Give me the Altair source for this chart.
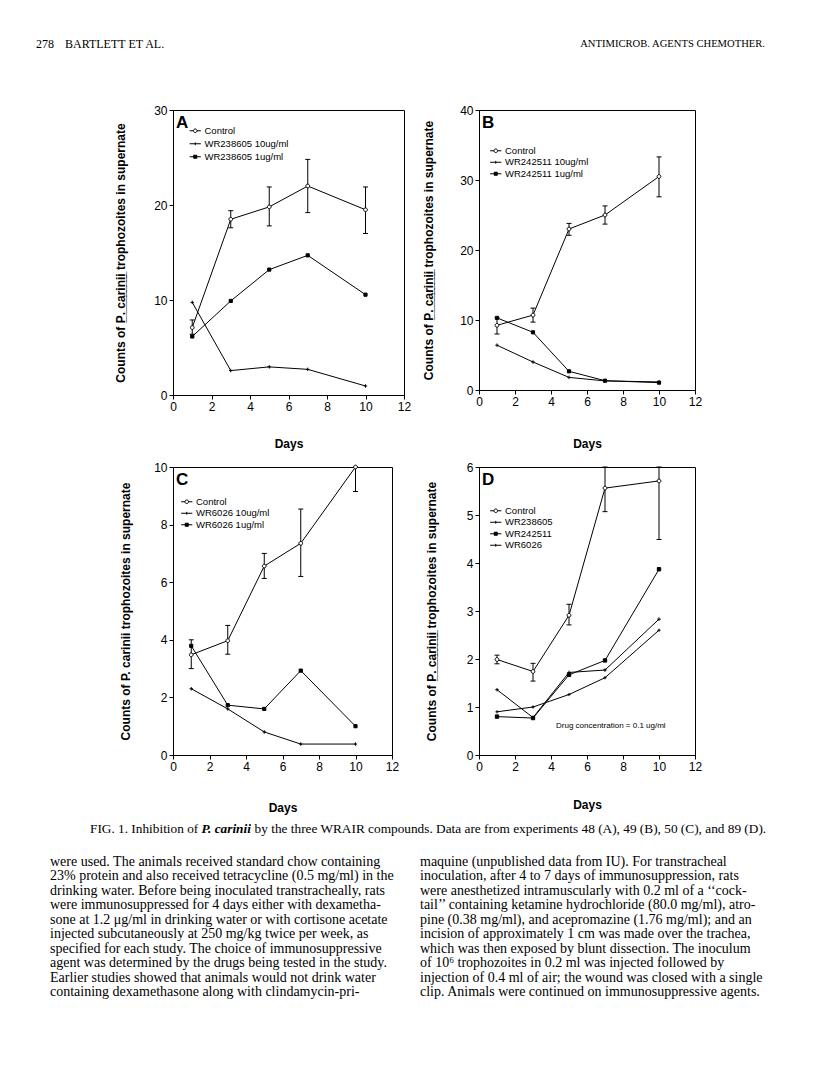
import altair as alt
import pandas as pd

SANS = "Liberation Sans"
SERIF = "Liberation Serif"

DAYS = [1, 3, 5, 7, 10]
UL = "\u0332"
Y_TITLE_UNDERLINED = ("Counts of " + "".join(c + UL for c in "P.") + " "
                      + "".join(c + UL for c in "carinii") + " trophozoites in supernate")
Y_TITLE_PLAIN = "Counts of P. carinii trophozoites in supernate"
X_TITLE = "Days"

# ---- Panel A ----
A_SERIES = ["Control", "WR238605 10ug/ml", "WR238605 1ug/ml"]
A_CONTROL = [7.1, 18.5, 19.8, 22.0, 19.5]
A_CONTROL_LO = [6.4, 17.6, 17.8, 19.2, 17.0]
A_CONTROL_HI = [7.9, 19.4, 21.9, 24.8, 21.9]
A_HIGH = [9.75, 2.57, 2.96, 2.7, 0.95]
A_LOW = [6.16, 9.9, 13.2, 14.7, 10.56]

# ---- Panel B ----
B_SERIES = ["Control", "WR242511 10ug/ml", "WR242511 1ug/ml"]
B_CONTROL = [9.24, 10.7, 23.0, 25.0, 30.5]
B_CONTROL_LO = [8.0, 9.7, 22.1, 23.7, 27.6]
B_CONTROL_HI = [10.3, 11.7, 23.8, 26.3, 33.3]
B_HIGH = [6.4, 4.0, 1.8, 1.3, 1.15]
B_LOW = [10.3, 8.24, 2.67, 1.33, 1.05]

# ---- Panel C ----
C_SERIES = ["Control", "WR6026 10ug/ml", "WR6026 1ug/ml"]
C_CONTROL = [3.48, 3.97, 6.56, 7.35, 10.0]
C_CONTROL_LO = [3.0, 3.5, 6.13, 6.2, 9.15]
C_CONTROL_HI = [4.0, 4.5, 7.0, 8.54, 10.0]
C_HIGH = [2.3, 1.6, 0.8, 0.38, 0.38]
C_LOW = [3.79, 1.73, 1.6, 2.93, 1.0]

# ---- Panel D ----
D_SERIES = ["Control", "WR238605", "WR242511", "WR6026"]
D_CONTROL = [1.99, 1.74, 2.91, 5.56, 5.71]
D_CONTROL_LO = [1.9, 1.54, 2.71, 5.07, 4.49]
D_CONTROL_HI = [2.08, 1.91, 3.14, 6.0, 6.0]
D_WR238605 = [1.36, 0.78, 1.72, 1.77, 2.83]
D_WR242511 = [0.8, 0.77, 1.67, 1.97, 3.87]
D_WR6026 = [0.9, 1.0, 1.26, 1.61, 2.6]
D_NOTE = "Drug concentration = 0.1 ug/ml"

# ---- page text ----
HEADER_PAGE = "278"
HEADER_AUTHORS = "BARTLETT ET AL."
HEADER_JOURNAL = "ANTIMICROB. AGENTS CHEMOTHER."
CAPTION_1 = "FIG. 1. Inhibition of"
CAPTION_2 = "P. carinii"
CAPTION_3 = "by the three WRAIR compounds. Data are from experiments 48 (A), 49 (B), 50 (C), and 89 (D)."
BODY_LEFT = [
    "were used. The animals received standard chow containing",
    "23% protein and also received tetracycline (0.5 mg/ml) in the",
    "drinking water. Before being inoculated transtracheally, rats",
    "were immunosuppressed for 4 days either with dexametha-",
    "sone at 1.2 \u03bcg/ml in drinking water or with cortisone acetate",
    "injected subcutaneously at 250 mg/kg twice per week, as",
    "specified for each study. The choice of immunosuppressive",
    "agent was determined by the drugs being tested in the study.",
    "Earlier studies showed that animals would not drink water",
    "containing dexamethasone along with clindamycin-pri-",
]
BODY_RIGHT = [
    "maquine (unpublished data from IU). For transtracheal",
    "inoculation, after 4 to 7 days of immunosuppression, rats",
    "were anesthetized intramuscularly with 0.2 ml of a \u2018\u2018cock-",
    "tail\u2019\u2019 containing ketamine hydrochloride (80.0 mg/ml), atro-",
    "pine (0.38 mg/ml), and acepromazine (1.76 mg/ml); and an",
    "incision of approximately 1 cm was made over the trachea,",
    "which was then exposed by blunt dissection. The inoculum",
    "of 10\u2076 trophozoites in 0.2 ml was injected followed by",
    "injection of 0.4 ml of air; the wound was closed with a single",
    "clip. Animals were continued on immunosuppressive agents.",
]

# marker paths
P_CIRCLE = "M-1,0A1,1 0 1,1 1,0A1,1 0 1,1 -1,0Z"
P_PLUS = "M-1,0H1M0,-1V1"
P_SQUARE = "M-1,-1H1V1H-1Z"
L_CIRCLE = "M-1.4,0H-0.45M0.45,0H1.4M-0.45,0A0.45,0.45 0 1,1 0.45,0A0.45,0.45 0 1,1 -0.45,0Z"
L_PLUS = "M-1.4,0H1.4M0,-0.35V0.35"
L_SQUARE = "M-1.4,0H1.4M-0.38,-0.38H0.38V0.38H-0.38Z"


def make_df(series, values):
    rows = []
    for s, vals in zip(series, values):
        for d, v in zip(DAYS, vals):
            rows.append({"series": s, "day": d, "value": v})
    return pd.DataFrame(rows)


def panel(letter, series, values, lo, hi, kinds, ymax, ystep, w, h,
          leg_x, leg_y, row_pad, ytp, xtp, ytitle, note_text=None, note_xy=(0, 0)):
    df = make_df(series, values)
    err = pd.DataFrame({"day": DAYS, "lo": lo, "hi": hi})
    xs = alt.Scale(domain=[0, 12], nice=False)
    ys = alt.Scale(domain=[0, ymax], nice=False)
    xax = alt.Axis(values=list(range(0, 13, 2)), title=X_TITLE, titlePadding=xtp,
                   labelFlush=False, labelOverlap=False, format="d")
    yax = alt.Axis(values=list(range(0, ymax + 1, ystep)), title=ytitle,
                   titlePadding=ytp, labelFlush=False, labelOverlap=False, format="d")
    X = alt.X("day:Q", scale=xs, axis=xax)

    def Yf(field):
        return alt.Y(field + ":Q", scale=ys, axis=yax)

    plot_paths = {"c": P_CIRCLE, "p": P_PLUS, "s": P_SQUARE}
    leg_paths = {"c": L_CIRCLE, "p": L_PLUS, "s": L_SQUARE}
    fills = {"c": "white", "p": "black", "s": "black"}
    sizes = {"c": 14, "p": 10, "s": 10}
    n = len(series)

    base = alt.Chart(df)
    lines = base.mark_line(color="black", strokeWidth=1, opacity=1).encode(
        x=X, y=Yf("value"), detail="series:N")
    rule = alt.Chart(err).mark_rule(color="black", strokeWidth=1).encode(
        x=X, y=Yf("lo"), y2="hi:Q")
    cap_lo = alt.Chart(err).mark_tick(orient="horizontal", size=5, thickness=1,
                                      color="black", opacity=1).encode(x=X, y=Yf("lo"))
    cap_hi = alt.Chart(err).mark_tick(orient="horizontal", size=5, thickness=1,
                                      color="black", opacity=1).encode(x=X, y=Yf("hi"))
    pts = base.mark_point(filled=True, stroke="black", strokeWidth=1, opacity=1).encode(
        x=X, y=Yf("value"),
        shape=alt.Shape("series:N", scale=alt.Scale(domain=series, range=[plot_paths[k] for k in kinds]), legend=None),
        fill=alt.Fill("series:N", scale=alt.Scale(domain=series, range=[fills[k] for k in kinds]), legend=None),
        size=alt.Size("series:N", scale=alt.Scale(domain=series, range=[sizes[k] for k in kinds]), legend=None),
    )
    leg = alt.Legend(orient="none", legendX=leg_x, legendY=leg_y, title=None,
                     labelFont=SANS, labelFontSize=9.5, labelColor="black",
                     symbolStrokeColor="black", symbolStrokeWidth=1, symbolSize=64,
                     symbolOpacity=1, rowPadding=row_pad, labelOffset=4.5,
                     padding=0, labelLimit=0)
    legend_layer = base.transform_filter("datum.day < 0").mark_point(
        filled=True, strokeWidth=1, opacity=1).encode(
        x=X, y=Yf("value"),
        shape=alt.Shape("series:N", scale=alt.Scale(domain=series, range=[leg_paths[k] for k in kinds]), legend=leg),
        fill=alt.Fill("series:N", scale=alt.Scale(domain=series, range=[fills[k] for k in kinds]), legend=leg),
        stroke=alt.Stroke("series:N", scale=alt.Scale(domain=series, range=["black"] * n), legend=leg),
    )
    letter_layer = alt.Chart(pd.DataFrame({"t": [letter]})).mark_text(
        font=SANS, fontSize=17, fontWeight="bold", align="left", baseline="top",
        color="black").encode(text="t:N", x=alt.value(3), y=alt.value(5))
    layers = [lines, rule, cap_lo, cap_hi, pts, legend_layer, letter_layer]
    if note_text is not None:
        layers.append(alt.Chart(pd.DataFrame({"t": [note_text]})).mark_text(
            font=SANS, fontSize=8, align="left", baseline="middle", color="black").encode(
            text="t:N", x=alt.value(note_xy[0]), y=alt.value(note_xy[1])))
    return alt.layer(*layers).resolve_scale(
        shape="independent", fill="independent", size="independent", stroke="independent"
    ).properties(width=w, height=h, view=alt.ViewBackground(stroke="black", strokeWidth=1))


def text_cell(items):
    layers = []
    for txt, x, y, font, size, style, align, weight in items:
        layers.append(alt.Chart(pd.DataFrame({"t": [txt]})).mark_text(
            font=font, fontSize=size, fontStyle=style, fontWeight=weight, align=align,
            baseline="middle", color="black").encode(text="t:N", x=alt.value(x), y=alt.value(y)))
    return alt.layer(*layers).properties(width=1, height=1)


def body_cell(lines, x):
    df = pd.DataFrame({"t": lines, "i": list(range(len(lines)))})
    return alt.Chart(df).mark_text(font=SERIF, fontSize=14, align="left",
                                   baseline="middle", color="black").encode(
        text="t:N", x=alt.value(x),
        y=alt.Y("i:Q", scale=alt.Scale(domain=[0, 9], range=[-38, 92]), axis=None),
    ).properties(width=1, height=1)


header_left = text_cell([
    (HEADER_PAGE, -137, 7, SERIF, 12, "normal", "left", "normal"),
    (HEADER_AUTHORS, -108, 7, SERIF, 12, "normal", "left", "normal"),
])
header_right = text_cell([
    (HEADER_JOURNAL, 286, 7, SERIF, 10.6, "normal", "right", "normal"),
])

pA = panel("A", A_SERIES, [A_CONTROL, A_HIGH, A_LOW], A_CONTROL_LO, A_CONTROL_HI,
           ["c", "p", "s"], 30, 10, 231, 285, 17.5, 16, 2, 26, 26, Y_TITLE_UNDERLINED)
pB = panel("B", B_SERIES, [B_CONTROL, B_HIGH, B_LOW], B_CONTROL_LO, B_CONTROL_HI,
           ["c", "p", "s"], 40, 10, 216, 280, 12, 36, 0.5, 24, 31, Y_TITLE_UNDERLINED)
pC = panel("C", C_SERIES, [C_CONTROL, C_HIGH, C_LOW], C_CONTROL_LO, C_CONTROL_HI,
           ["c", "p", "s"], 10, 2, 219, 288, 9, 30, 0.5, 21, 30, Y_TITLE_PLAIN)
pD = panel("D", D_SERIES, [D_CONTROL, D_WR238605, D_WR242511, D_WR6026], D_CONTROL_LO, D_CONTROL_HI,
           ["c", "p", "s", "p"], 6, 1, 216, 288, 12, 39, 0.5, 28, 27, Y_TITLE_UNDERLINED,
           note_text=D_NOTE, note_xy=(77, 259))

cap_left = text_cell([
    (CAPTION_1, -83, 2, SERIF, 13.3, "normal", "left", "normal"),
    (CAPTION_2, 28.6, 2, SERIF, 13.3, "italic", "left", "bold"),
    (CAPTION_3, 81.6, 2, SERIF, 13.3, "normal", "left", "normal"),
])
cap_right = text_cell([("", 0, 0, SERIF, 12, "normal", "left", "normal")])
body_left = body_cell(BODY_LEFT, -123)
body_right = body_cell(BODY_RIGHT, -59)

chart = alt.concat(
    header_left, header_right,
    pA, pB,
    pC, pD,
    cap_left, cap_right,
    body_left, body_right,
    columns=2, spacing={"row": 72, "column": 75}, bounds="flush", align="each",
).resolve_scale(
    shape="independent", fill="independent", size="independent", stroke="independent"
).resolve_legend(
    shape="independent", fill="independent", size="independent", stroke="independent"
).properties(
    padding={"left": 28, "top": 29, "right": 10, "bottom": 10}
).configure_view(stroke=None).configure_axis(
    grid=False, domainColor="black", tickColor="black", labelColor="black",
    titleColor="black", labelFont=SANS, titleFont=SANS, tickSize=4,
    labelFontSize=12, titleFontSize=12, titleFontWeight="bold", labelPadding=2,
    domainWidth=1, tickWidth=1,
)

chart.save("out.html", embed_options={"renderer": "svg", "actions": False})
